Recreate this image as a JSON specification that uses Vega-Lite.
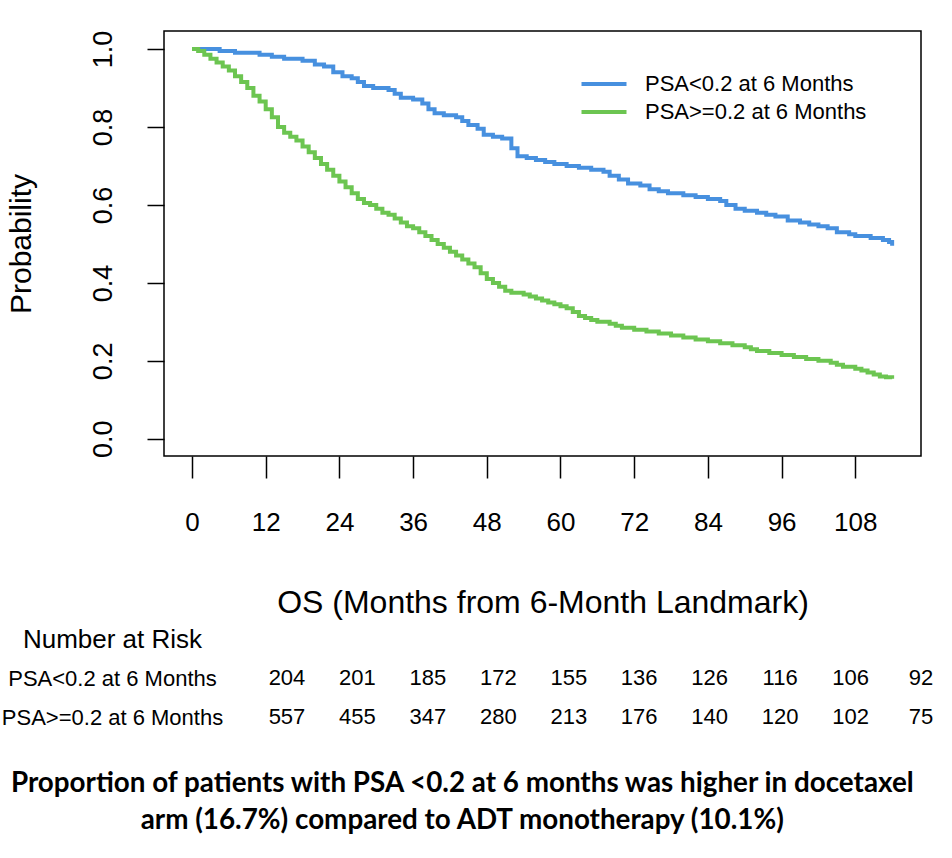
{
  "$schema": "https://vega.github.io/schema/vega-lite/v6.json",
  "padding": {"left": 1, "top": 29, "right": 0, "bottom": 0},
  "background": "white",
  "bounds": "flush",
  "spacing": 183,
  "config": {
    "font": "Liberation Sans",
    "view": {"stroke": "black", "strokeWidth": 1.5},
    "axis": {"grid": false, "domain": false, "labelColor": "black", "titleColor": "black", "tickColor": "black", "tickWidth": 1.5, "labelFont": "Liberation Sans", "titleFont": "Liberation Sans", "titleFontWeight": "normal", "labelLimit": 0},
    "text": {"color": "black"}
  },
  "title": {
    "text": ["Proportion of patients with PSA <0.2 at 6 months was higher in docetaxel", "arm (16.7%) compared to ADT monotherapy (10.1%)"],
    "orient": "bottom", "anchor": "middle", "frame": "bounds", "dx": -5,
    "font": "Lato", "fontWeight": "bold", "fontSize": 27.8, "lineHeight": 37, "offset": 42, "color": "black"
  },
  "vconcat": [
    {
      "width": 757, "height": 425,
      "data": {"values": [
        {"group": "PSA<0.2 at 6 Months", "month": 0, "prob": 1},
        {"group": "PSA<0.2 at 6 Months", "month": 4.5, "prob": 0.995},
        {"group": "PSA<0.2 at 6 Months", "month": 7, "prob": 0.99},
        {"group": "PSA<0.2 at 6 Months", "month": 11, "prob": 0.985},
        {"group": "PSA<0.2 at 6 Months", "month": 13, "prob": 0.98},
        {"group": "PSA<0.2 at 6 Months", "month": 15, "prob": 0.975},
        {"group": "PSA<0.2 at 6 Months", "month": 18, "prob": 0.97},
        {"group": "PSA<0.2 at 6 Months", "month": 20, "prob": 0.96},
        {"group": "PSA<0.2 at 6 Months", "month": 21.5, "prob": 0.955},
        {"group": "PSA<0.2 at 6 Months", "month": 23, "prob": 0.94},
        {"group": "PSA<0.2 at 6 Months", "month": 24.5, "prob": 0.93},
        {"group": "PSA<0.2 at 6 Months", "month": 26, "prob": 0.925},
        {"group": "PSA<0.2 at 6 Months", "month": 27, "prob": 0.915},
        {"group": "PSA<0.2 at 6 Months", "month": 28, "prob": 0.905},
        {"group": "PSA<0.2 at 6 Months", "month": 29.5, "prob": 0.9},
        {"group": "PSA<0.2 at 6 Months", "month": 32, "prob": 0.895},
        {"group": "PSA<0.2 at 6 Months", "month": 33, "prob": 0.885},
        {"group": "PSA<0.2 at 6 Months", "month": 34, "prob": 0.875},
        {"group": "PSA<0.2 at 6 Months", "month": 36, "prob": 0.87},
        {"group": "PSA<0.2 at 6 Months", "month": 37.5, "prob": 0.86},
        {"group": "PSA<0.2 at 6 Months", "month": 38.5, "prob": 0.845},
        {"group": "PSA<0.2 at 6 Months", "month": 39.5, "prob": 0.835},
        {"group": "PSA<0.2 at 6 Months", "month": 41, "prob": 0.83},
        {"group": "PSA<0.2 at 6 Months", "month": 43, "prob": 0.825},
        {"group": "PSA<0.2 at 6 Months", "month": 44, "prob": 0.815},
        {"group": "PSA<0.2 at 6 Months", "month": 45, "prob": 0.805},
        {"group": "PSA<0.2 at 6 Months", "month": 46.5, "prob": 0.795},
        {"group": "PSA<0.2 at 6 Months", "month": 47.5, "prob": 0.78},
        {"group": "PSA<0.2 at 6 Months", "month": 49, "prob": 0.775},
        {"group": "PSA<0.2 at 6 Months", "month": 50.5, "prob": 0.77},
        {"group": "PSA<0.2 at 6 Months", "month": 52, "prob": 0.745},
        {"group": "PSA<0.2 at 6 Months", "month": 53, "prob": 0.725},
        {"group": "PSA<0.2 at 6 Months", "month": 54.5, "prob": 0.72},
        {"group": "PSA<0.2 at 6 Months", "month": 56, "prob": 0.715},
        {"group": "PSA<0.2 at 6 Months", "month": 57.5, "prob": 0.71},
        {"group": "PSA<0.2 at 6 Months", "month": 59, "prob": 0.705},
        {"group": "PSA<0.2 at 6 Months", "month": 61, "prob": 0.7},
        {"group": "PSA<0.2 at 6 Months", "month": 63, "prob": 0.695},
        {"group": "PSA<0.2 at 6 Months", "month": 65, "prob": 0.69},
        {"group": "PSA<0.2 at 6 Months", "month": 67, "prob": 0.685},
        {"group": "PSA<0.2 at 6 Months", "month": 68, "prob": 0.675},
        {"group": "PSA<0.2 at 6 Months", "month": 69.5, "prob": 0.665},
        {"group": "PSA<0.2 at 6 Months", "month": 71, "prob": 0.655},
        {"group": "PSA<0.2 at 6 Months", "month": 73, "prob": 0.65},
        {"group": "PSA<0.2 at 6 Months", "month": 74.5, "prob": 0.64},
        {"group": "PSA<0.2 at 6 Months", "month": 76, "prob": 0.635},
        {"group": "PSA<0.2 at 6 Months", "month": 77.5, "prob": 0.63},
        {"group": "PSA<0.2 at 6 Months", "month": 80, "prob": 0.625},
        {"group": "PSA<0.2 at 6 Months", "month": 82, "prob": 0.62},
        {"group": "PSA<0.2 at 6 Months", "month": 84, "prob": 0.615},
        {"group": "PSA<0.2 at 6 Months", "month": 86, "prob": 0.61},
        {"group": "PSA<0.2 at 6 Months", "month": 87, "prob": 0.6},
        {"group": "PSA<0.2 at 6 Months", "month": 88.5, "prob": 0.59},
        {"group": "PSA<0.2 at 6 Months", "month": 90, "prob": 0.585},
        {"group": "PSA<0.2 at 6 Months", "month": 92, "prob": 0.58},
        {"group": "PSA<0.2 at 6 Months", "month": 93.5, "prob": 0.575},
        {"group": "PSA<0.2 at 6 Months", "month": 95, "prob": 0.57},
        {"group": "PSA<0.2 at 6 Months", "month": 97, "prob": 0.56},
        {"group": "PSA<0.2 at 6 Months", "month": 99, "prob": 0.555},
        {"group": "PSA<0.2 at 6 Months", "month": 100.5, "prob": 0.55},
        {"group": "PSA<0.2 at 6 Months", "month": 102, "prob": 0.545},
        {"group": "PSA<0.2 at 6 Months", "month": 103.5, "prob": 0.54},
        {"group": "PSA<0.2 at 6 Months", "month": 105, "prob": 0.53},
        {"group": "PSA<0.2 at 6 Months", "month": 107, "prob": 0.525},
        {"group": "PSA<0.2 at 6 Months", "month": 108, "prob": 0.52},
        {"group": "PSA<0.2 at 6 Months", "month": 110.5, "prob": 0.515},
        {"group": "PSA<0.2 at 6 Months", "month": 112.5, "prob": 0.51},
        {"group": "PSA<0.2 at 6 Months", "month": 113.5, "prob": 0.505},
        {"group": "PSA<0.2 at 6 Months", "month": 114, "prob": 0.495},
        {"group": "PSA>=0.2 at 6 Months", "month": 0, "prob": 1},
        {"group": "PSA>=0.2 at 6 Months", "month": 1, "prob": 0.995},
        {"group": "PSA>=0.2 at 6 Months", "month": 2, "prob": 0.985},
        {"group": "PSA>=0.2 at 6 Months", "month": 3, "prob": 0.975},
        {"group": "PSA>=0.2 at 6 Months", "month": 4, "prob": 0.965},
        {"group": "PSA>=0.2 at 6 Months", "month": 5, "prob": 0.955},
        {"group": "PSA>=0.2 at 6 Months", "month": 6, "prob": 0.945},
        {"group": "PSA>=0.2 at 6 Months", "month": 7, "prob": 0.93},
        {"group": "PSA>=0.2 at 6 Months", "month": 8, "prob": 0.915},
        {"group": "PSA>=0.2 at 6 Months", "month": 9, "prob": 0.9},
        {"group": "PSA>=0.2 at 6 Months", "month": 10, "prob": 0.88},
        {"group": "PSA>=0.2 at 6 Months", "month": 11, "prob": 0.865},
        {"group": "PSA>=0.2 at 6 Months", "month": 12, "prob": 0.845},
        {"group": "PSA>=0.2 at 6 Months", "month": 13, "prob": 0.825},
        {"group": "PSA>=0.2 at 6 Months", "month": 14, "prob": 0.8},
        {"group": "PSA>=0.2 at 6 Months", "month": 15, "prob": 0.785},
        {"group": "PSA>=0.2 at 6 Months", "month": 16, "prob": 0.775},
        {"group": "PSA>=0.2 at 6 Months", "month": 17, "prob": 0.765},
        {"group": "PSA>=0.2 at 6 Months", "month": 18, "prob": 0.75},
        {"group": "PSA>=0.2 at 6 Months", "month": 19, "prob": 0.735},
        {"group": "PSA>=0.2 at 6 Months", "month": 20, "prob": 0.72},
        {"group": "PSA>=0.2 at 6 Months", "month": 21, "prob": 0.705},
        {"group": "PSA>=0.2 at 6 Months", "month": 22, "prob": 0.69},
        {"group": "PSA>=0.2 at 6 Months", "month": 23, "prob": 0.675},
        {"group": "PSA>=0.2 at 6 Months", "month": 24, "prob": 0.66},
        {"group": "PSA>=0.2 at 6 Months", "month": 25, "prob": 0.645},
        {"group": "PSA>=0.2 at 6 Months", "month": 26, "prob": 0.63},
        {"group": "PSA>=0.2 at 6 Months", "month": 27, "prob": 0.615},
        {"group": "PSA>=0.2 at 6 Months", "month": 28, "prob": 0.605},
        {"group": "PSA>=0.2 at 6 Months", "month": 29, "prob": 0.6},
        {"group": "PSA>=0.2 at 6 Months", "month": 30, "prob": 0.59},
        {"group": "PSA>=0.2 at 6 Months", "month": 31, "prob": 0.58},
        {"group": "PSA>=0.2 at 6 Months", "month": 32, "prob": 0.575},
        {"group": "PSA>=0.2 at 6 Months", "month": 33, "prob": 0.565},
        {"group": "PSA>=0.2 at 6 Months", "month": 34, "prob": 0.555},
        {"group": "PSA>=0.2 at 6 Months", "month": 35, "prob": 0.545},
        {"group": "PSA>=0.2 at 6 Months", "month": 36, "prob": 0.54},
        {"group": "PSA>=0.2 at 6 Months", "month": 37, "prob": 0.53},
        {"group": "PSA>=0.2 at 6 Months", "month": 38, "prob": 0.52},
        {"group": "PSA>=0.2 at 6 Months", "month": 39, "prob": 0.51},
        {"group": "PSA>=0.2 at 6 Months", "month": 40, "prob": 0.5},
        {"group": "PSA>=0.2 at 6 Months", "month": 41, "prob": 0.49},
        {"group": "PSA>=0.2 at 6 Months", "month": 42, "prob": 0.48},
        {"group": "PSA>=0.2 at 6 Months", "month": 43, "prob": 0.47},
        {"group": "PSA>=0.2 at 6 Months", "month": 44, "prob": 0.46},
        {"group": "PSA>=0.2 at 6 Months", "month": 45, "prob": 0.45},
        {"group": "PSA>=0.2 at 6 Months", "month": 46, "prob": 0.44},
        {"group": "PSA>=0.2 at 6 Months", "month": 47, "prob": 0.425},
        {"group": "PSA>=0.2 at 6 Months", "month": 48, "prob": 0.41},
        {"group": "PSA>=0.2 at 6 Months", "month": 49, "prob": 0.4},
        {"group": "PSA>=0.2 at 6 Months", "month": 50, "prob": 0.39},
        {"group": "PSA>=0.2 at 6 Months", "month": 51, "prob": 0.38},
        {"group": "PSA>=0.2 at 6 Months", "month": 52, "prob": 0.375},
        {"group": "PSA>=0.2 at 6 Months", "month": 54, "prob": 0.37},
        {"group": "PSA>=0.2 at 6 Months", "month": 55, "prob": 0.365},
        {"group": "PSA>=0.2 at 6 Months", "month": 56, "prob": 0.36},
        {"group": "PSA>=0.2 at 6 Months", "month": 57, "prob": 0.355},
        {"group": "PSA>=0.2 at 6 Months", "month": 58, "prob": 0.35},
        {"group": "PSA>=0.2 at 6 Months", "month": 59, "prob": 0.345},
        {"group": "PSA>=0.2 at 6 Months", "month": 60, "prob": 0.34},
        {"group": "PSA>=0.2 at 6 Months", "month": 61, "prob": 0.335},
        {"group": "PSA>=0.2 at 6 Months", "month": 62, "prob": 0.325},
        {"group": "PSA>=0.2 at 6 Months", "month": 63, "prob": 0.315},
        {"group": "PSA>=0.2 at 6 Months", "month": 64, "prob": 0.31},
        {"group": "PSA>=0.2 at 6 Months", "month": 65, "prob": 0.305},
        {"group": "PSA>=0.2 at 6 Months", "month": 66, "prob": 0.3},
        {"group": "PSA>=0.2 at 6 Months", "month": 68, "prob": 0.295},
        {"group": "PSA>=0.2 at 6 Months", "month": 69, "prob": 0.29},
        {"group": "PSA>=0.2 at 6 Months", "month": 70, "prob": 0.285},
        {"group": "PSA>=0.2 at 6 Months", "month": 72, "prob": 0.28},
        {"group": "PSA>=0.2 at 6 Months", "month": 74, "prob": 0.275},
        {"group": "PSA>=0.2 at 6 Months", "month": 76, "prob": 0.27},
        {"group": "PSA>=0.2 at 6 Months", "month": 78, "prob": 0.265},
        {"group": "PSA>=0.2 at 6 Months", "month": 80, "prob": 0.26},
        {"group": "PSA>=0.2 at 6 Months", "month": 82, "prob": 0.255},
        {"group": "PSA>=0.2 at 6 Months", "month": 84, "prob": 0.25},
        {"group": "PSA>=0.2 at 6 Months", "month": 86, "prob": 0.245},
        {"group": "PSA>=0.2 at 6 Months", "month": 88, "prob": 0.24},
        {"group": "PSA>=0.2 at 6 Months", "month": 90, "prob": 0.235},
        {"group": "PSA>=0.2 at 6 Months", "month": 91, "prob": 0.23},
        {"group": "PSA>=0.2 at 6 Months", "month": 92, "prob": 0.225},
        {"group": "PSA>=0.2 at 6 Months", "month": 94, "prob": 0.22},
        {"group": "PSA>=0.2 at 6 Months", "month": 96, "prob": 0.215},
        {"group": "PSA>=0.2 at 6 Months", "month": 98, "prob": 0.21},
        {"group": "PSA>=0.2 at 6 Months", "month": 100, "prob": 0.205},
        {"group": "PSA>=0.2 at 6 Months", "month": 102, "prob": 0.2},
        {"group": "PSA>=0.2 at 6 Months", "month": 104, "prob": 0.195},
        {"group": "PSA>=0.2 at 6 Months", "month": 105, "prob": 0.19},
        {"group": "PSA>=0.2 at 6 Months", "month": 106, "prob": 0.185},
        {"group": "PSA>=0.2 at 6 Months", "month": 108, "prob": 0.18},
        {"group": "PSA>=0.2 at 6 Months", "month": 109, "prob": 0.175},
        {"group": "PSA>=0.2 at 6 Months", "month": 110, "prob": 0.17},
        {"group": "PSA>=0.2 at 6 Months", "month": 111, "prob": 0.165},
        {"group": "PSA>=0.2 at 6 Months", "month": 112, "prob": 0.16},
        {"group": "PSA>=0.2 at 6 Months", "month": 113, "prob": 0.158},
        {"group": "PSA>=0.2 at 6 Months", "month": 114, "prob": 0.154}
      ]},
      "mark": {"type": "line", "interpolate": "step-after", "strokeWidth": 4},
      "encoding": {
        "x": {
          "field": "month", "type": "quantitative",
          "scale": {"domain": [-4.56, 118.7], "nice": false, "zero": false},
          "axis": {"values": [0, 12, 24, 36, 48, 60, 72, 84, 96, 108], "tickSize": 22, "labelPadding": 31, "labelFontSize": 26, "title": "OS (Months from 6-Month Landmark)", "titleFontSize": 32, "titlePadding": 52}
        },
        "y": {
          "field": "prob", "type": "quantitative",
          "scale": {"domain": [-0.044, 1.046], "nice": false, "zero": false},
          "axis": {"values": [0, 0.2, 0.4, 0.6, 0.8, 1], "format": ".1f", "tickSize": 17, "labelAngle": -90, "labelPadding": 30, "labelFontSize": 27, "title": "Probability", "titleFontSize": 30, "titlePadding": 53}
        },
        "color": {
          "field": "group", "type": "nominal",
          "scale": {"domain": ["PSA<0.2 at 6 Months", "PSA>=0.2 at 6 Months"], "range": ["#4790DF", "#6CC551"]},
          "legend": {"orient": "none", "legendX": 423, "legendY": 36, "title": null, "symbolType": "M-1.5,0H1.5", "symbolSize": 900, "symbolStrokeWidth": 4, "labelFontSize": 22, "labelOffset": 24, "labelLimit": 0, "rowPadding": -1, "padding": 0, "labelColor": "black", "labelFont": "Liberation Sans"}
        }
      }
    },
    {
      "width": 757, "height": 78,
      "view": {"stroke": null},
      "data": {"values": [
        {"group": "PSA<0.2 at 6 Months", "month": 0, "n": 204},
        {"group": "PSA<0.2 at 6 Months", "month": 12, "n": 201},
        {"group": "PSA<0.2 at 6 Months", "month": 24, "n": 185},
        {"group": "PSA<0.2 at 6 Months", "month": 36, "n": 172},
        {"group": "PSA<0.2 at 6 Months", "month": 48, "n": 155},
        {"group": "PSA<0.2 at 6 Months", "month": 60, "n": 136},
        {"group": "PSA<0.2 at 6 Months", "month": 72, "n": 126},
        {"group": "PSA<0.2 at 6 Months", "month": 84, "n": 116},
        {"group": "PSA<0.2 at 6 Months", "month": 96, "n": 106},
        {"group": "PSA<0.2 at 6 Months", "month": 108, "n": 92},
        {"group": "PSA>=0.2 at 6 Months", "month": 0, "n": 557},
        {"group": "PSA>=0.2 at 6 Months", "month": 12, "n": 455},
        {"group": "PSA>=0.2 at 6 Months", "month": 24, "n": 347},
        {"group": "PSA>=0.2 at 6 Months", "month": 36, "n": 280},
        {"group": "PSA>=0.2 at 6 Months", "month": 48, "n": 213},
        {"group": "PSA>=0.2 at 6 Months", "month": 60, "n": 176},
        {"group": "PSA>=0.2 at 6 Months", "month": 72, "n": 140},
        {"group": "PSA>=0.2 at 6 Months", "month": 84, "n": 120},
        {"group": "PSA>=0.2 at 6 Months", "month": 96, "n": 102},
        {"group": "PSA>=0.2 at 6 Months", "month": 108, "n": 75}
      ]},
      "mark": {"type": "text", "fontSize": 22, "baseline": "middle", "align": "center", "color": "black"},
      "encoding": {
        "x": {"field": "month", "type": "quantitative", "scale": {"domain": [-20.95, 108], "nice": false, "zero": false}, "axis": null},
        "y": {
          "field": "group", "type": "nominal",
          "scale": {"type": "point", "domain": ["Number at Risk", "PSA<0.2 at 6 Months", "PSA>=0.2 at 6 Months"], "padding": 0},
          "axis": {"title": null, "ticks": false, "domain": false, "labelAlign": "center", "labelBaseline": "middle", "labelPadding": 52, "labelLimit": 0, "labelFontSize": {"condition": {"test": "datum.value === 'Number at Risk'", "value": 26}, "value": 22}}
        },
        "text": {"field": "n", "type": "quantitative"}
      }
    }
  ]
}
